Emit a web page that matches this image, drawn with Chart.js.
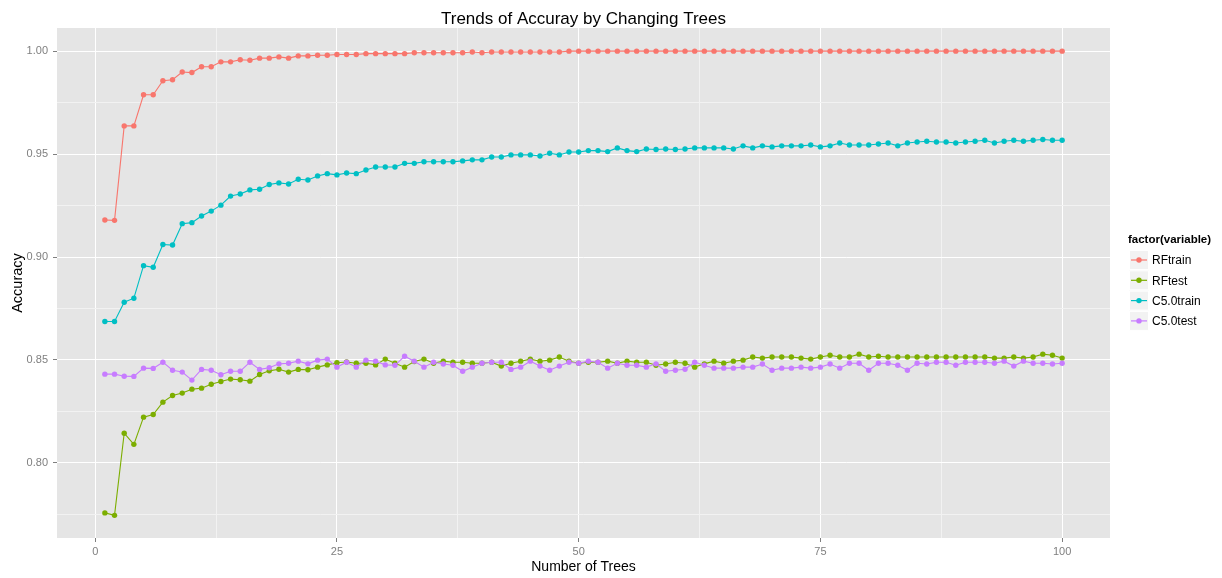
<!DOCTYPE html>
<html>
<head>
<meta charset="utf-8">
<script src="https://cdn.jsdelivr.net/npm/chart.js@4.4.1/dist/chart.umd.min.js"></script>
<style>
  body { margin: 0; background: #fff; }
  #chart { display: block; }
</style>
</head>
<body>
<canvas id="chart" width="1222" height="578"></canvas>
<script>
// number of trees on the x axis, 1..100
const trees = Array.from({ length: 100 }, (_, i) => i + 1);

const seriesNames = ["RFtrain", "RFtest", "C5.0train", "C5.0test"];
const seriesColors = ["#F8766D", "#7CAE00", "#00BFC4", "#C77CFF"];

const rfTrain = [
  0.9180, 0.9178, 0.9637, 0.9637, 0.9788, 0.9788, 0.9856, 0.9861, 0.9899, 0.9896,
  0.9924, 0.9924, 0.9948, 0.9948, 0.9958, 0.9956, 0.9966, 0.9966, 0.9972, 0.9966,
  0.9977, 0.9977, 0.9980, 0.9980, 0.9984, 0.9984, 0.9984, 0.9988, 0.9988, 0.9988,
  0.9988, 0.9988, 0.9992, 0.9992, 0.9992, 0.9992, 0.9992, 0.9992, 0.9996, 0.9992,
  0.9996, 0.9996, 0.9996, 0.9996, 0.9996, 0.9996, 0.9996, 0.9996, 1.0000, 1.0000,
  1.0000, 1.0000, 1.0000, 1.0000, 1.0000, 1.0000, 1.0000, 1.0000, 1.0000, 1.0000,
  1.0000, 1.0000, 1.0000, 1.0000, 1.0000, 1.0000, 1.0000, 1.0000, 1.0000, 1.0000,
  1.0000, 1.0000, 1.0000, 1.0000, 1.0000, 1.0000, 1.0000, 1.0000, 1.0000, 1.0000,
  1.0000, 1.0000, 1.0000, 1.0000, 1.0000, 1.0000, 1.0000, 1.0000, 1.0000, 1.0000,
  1.0000, 1.0000, 1.0000, 1.0000, 1.0000, 1.0000, 1.0000, 1.0000, 1.0000, 1.0000
];

const rfTest = [
  0.7757, 0.7745, 0.8144, 0.8090, 0.8222, 0.8235, 0.8295, 0.8327, 0.8339, 0.8358,
  0.8363, 0.8382, 0.8395, 0.8407, 0.8404, 0.8397, 0.8429, 0.8447, 0.8455, 0.8441,
  0.8454, 0.8452, 0.8465, 0.8476, 0.8486, 0.8490, 0.8484, 0.8484, 0.8476, 0.8504,
  0.8484, 0.8465, 0.8492, 0.8504, 0.8484, 0.8494, 0.8489, 0.8489, 0.8484, 0.8484,
  0.8489, 0.8470, 0.8484, 0.8494, 0.8504, 0.8494, 0.8499, 0.8514, 0.8494, 0.8484,
  0.8489, 0.8489, 0.8494, 0.8484, 0.8494, 0.8489, 0.8489, 0.8474, 0.8480, 0.8489,
  0.8484, 0.8465, 0.8481, 0.8494, 0.8484, 0.8494, 0.8499, 0.8514, 0.8509, 0.8514,
  0.8514, 0.8514, 0.8509, 0.8504, 0.8514, 0.8523, 0.8514, 0.8514, 0.8528, 0.8514,
  0.8518, 0.8514, 0.8514, 0.8514, 0.8514, 0.8514, 0.8514, 0.8514, 0.8514, 0.8514,
  0.8514, 0.8514, 0.8509, 0.8509, 0.8514, 0.8509, 0.8514, 0.8528, 0.8523, 0.8509
];

const c50Train = [
  0.8687, 0.8687, 0.8780, 0.8800, 0.8958, 0.8950, 0.9061, 0.9058, 0.9162, 0.9167,
  0.9199, 0.9223, 0.9252, 0.9296, 0.9306, 0.9326, 0.9329, 0.9352, 0.9360, 0.9355,
  0.9378, 0.9374, 0.9394, 0.9405, 0.9399, 0.9408, 0.9405, 0.9423, 0.9437, 0.9437,
  0.9437, 0.9455, 0.9455, 0.9463, 0.9463, 0.9463, 0.9463, 0.9467, 0.9472, 0.9472,
  0.9486, 0.9486, 0.9496, 0.9496, 0.9496, 0.9491, 0.9504, 0.9496, 0.9510, 0.9510,
  0.9517, 0.9517, 0.9512, 0.9530, 0.9517, 0.9512, 0.9525, 0.9522, 0.9525, 0.9522,
  0.9525, 0.9530, 0.9530, 0.9530, 0.9530, 0.9525, 0.9540, 0.9530, 0.9540, 0.9535,
  0.9540, 0.9540, 0.9540, 0.9544, 0.9535, 0.9540, 0.9554, 0.9544, 0.9544, 0.9544,
  0.9549, 0.9554, 0.9540, 0.9554, 0.9559, 0.9562, 0.9559, 0.9559, 0.9554, 0.9559,
  0.9562, 0.9567, 0.9554, 0.9562, 0.9567, 0.9562, 0.9567, 0.9571, 0.9567, 0.9567
];

const c50Test = [
  0.8431, 0.8431, 0.8421, 0.8420, 0.8460, 0.8459, 0.8489, 0.8450, 0.8441, 0.8402,
  0.8454, 0.8450, 0.8428, 0.8445, 0.8445, 0.8489, 0.8454, 0.8462, 0.8481, 0.8484,
  0.8494, 0.8481, 0.8499, 0.8504, 0.8465, 0.8489, 0.8465, 0.8499, 0.8494, 0.8476,
  0.8474, 0.8518, 0.8494, 0.8465, 0.8489, 0.8480, 0.8474, 0.8445, 0.8465, 0.8484,
  0.8489, 0.8489, 0.8454, 0.8465, 0.8494, 0.8470, 0.8450, 0.8470, 0.8489, 0.8484,
  0.8494, 0.8489, 0.8460, 0.8484, 0.8474, 0.8474, 0.8465, 0.8481, 0.8445, 0.8450,
  0.8455, 0.8489, 0.8474, 0.8460, 0.8460, 0.8460, 0.8465, 0.8465, 0.8480, 0.8450,
  0.8460, 0.8460, 0.8465, 0.8460, 0.8465, 0.8480, 0.8460, 0.8484, 0.8484, 0.8450,
  0.8484, 0.8484, 0.8474, 0.8450, 0.8484, 0.8480, 0.8489, 0.8489, 0.8474, 0.8489,
  0.8489, 0.8489, 0.8484, 0.8494, 0.8470, 0.8494, 0.8484, 0.8484, 0.8480, 0.8484
];

const seriesValues = [rfTrain, rfTest, c50Train, c50Test];

const xTicks = [0, 25, 50, 75, 100];
const yTicks = [0.80, 0.85, 0.90, 0.95, 1.00];

const FONT = "'Liberation Sans', Arial, sans-serif";

// majors plus the half-way minor lines ggplot draws between them
function withMinors(major) {
  const step = major[1] - major[0];
  const out = [{ value: major[0] - step / 2, minor: true }];
  major.forEach(v => {
    out.push({ value: v, minor: false });
    out.push({ value: v + step / 2, minor: true });
  });
  return out;
}

const gridColor = ctx => (ctx.tick && ctx.tick.minor ? "#f2f2f2" : "#ffffff");
const tickColor = ctx => (ctx.tick && ctx.tick.minor ? "rgba(0,0,0,0)" : "#7f7f7f");

const panelBg = {
  id: "panelBg",
  beforeDraw(chart) {
    const { ctx, chartArea: a } = chart;
    ctx.save();
    ctx.fillStyle = "#e5e5e5";
    ctx.fillRect(a.left, a.top, a.right - a.left, a.bottom - a.top);
    ctx.restore();
  }
};

const titleAndLegend = {
  id: "titleAndLegend",
  afterDraw(chart) {
    const { ctx, chartArea: a } = chart;
    ctx.save();
    ctx.fillStyle = "#000";
    ctx.font = "17px " + FONT;
    ctx.textAlign = "center";
    ctx.textBaseline = "alphabetic";
    ctx.fillText("Trends of Accuray by Changing Trees", (a.left + a.right) / 2, 23.5);

    // legend on the right
    const lx = 1129;
    ctx.textAlign = "left";
    ctx.font = "bold 11.5px " + FONT;
    ctx.fillText("factor(variable)", lx - 1, 243);
    ctx.font = "12px " + FONT;
    seriesNames.forEach((name, i) => {
      const cy = 260 + i * 20.3;
      ctx.fillStyle = "#f2f2f2";
      ctx.fillRect(lx, cy - 10, 20, 20);
      ctx.strokeStyle = "#ffffff";
      ctx.lineWidth = 1;
      ctx.strokeRect(lx + 0.5, cy - 9.5, 19, 19);
      ctx.strokeStyle = seriesColors[i];
      ctx.lineWidth = 1.2;
      ctx.beginPath();
      ctx.moveTo(lx + 2, cy);
      ctx.lineTo(lx + 18, cy);
      ctx.stroke();
      ctx.fillStyle = seriesColors[i];
      ctx.beginPath();
      ctx.arc(lx + 10, cy, 2.7, 0, Math.PI * 2);
      ctx.fill();
      ctx.fillStyle = "#000";
      ctx.textBaseline = "middle";
      ctx.fillText(name, lx + 23, cy + 1);
    });
    ctx.restore();
  }
};

new Chart(document.getElementById("chart"), {
  type: "line",
  data: {
    datasets: seriesNames.map((name, i) => ({
      label: name,
      data: trees.map((t, j) => ({ x: t, y: seriesValues[i][j] })),
      borderColor: seriesColors[i],
      backgroundColor: seriesColors[i],
      borderWidth: 1.1,
      pointRadius: 2.7,
      pointBorderWidth: 0,
      tension: 0,
      order: seriesNames.length - i
    }))
  },
  options: {
    responsive: false,
    animation: false,
    layout: { padding: { top: 28, right: 112, left: 0, bottom: 0 } },
    plugins: { legend: { display: false }, tooltip: { enabled: false } },
    scales: {
      x: {
        type: "linear",
        min: -3.95,
        max: 104.95,
        afterBuildTicks(scale) { scale.ticks = withMinors(xTicks).filter(t => t.value > scale.min && t.value < scale.max); },
        afterFit(scale) { scale.height = 40; },
        border: { display: false },
        grid: { color: gridColor, lineWidth: 1, tickColor: tickColor, tickLength: 4, tickWidth: 1 },
        ticks: {
          autoSkip: false, maxRotation: 0, padding: 3, color: "#7f7f7f",
          font: { family: FONT, size: 11 },
          callback(v, i, ticks) { return ticks[i].minor ? "" : String(v); }
        },
        title: { display: true, text: "Number of Trees", color: "#000", font: { family: FONT, size: 14 }, padding: { top: 0, bottom: 2 } }
      },
      y: {
        type: "linear",
        min: 0.7635,
        max: 1.01125,
        afterBuildTicks(scale) { scale.ticks = withMinors(yTicks).filter(t => t.value > scale.min && t.value < scale.max); },
        afterFit(scale) { scale.width = 57; },
        border: { display: false },
        grid: { color: gridColor, lineWidth: 1, tickColor: tickColor, tickLength: 4, tickWidth: 1 },
        ticks: {
          autoSkip: false, padding: 5, color: "#7f7f7f",
          font: { family: FONT, size: 11 },
          callback(v, i, ticks) { return ticks[i].minor ? "" : v.toFixed(2); }
        },
        title: { display: true, text: "Accuracy", color: "#000", font: { family: FONT, size: 14.5 }, padding: { top: 9, bottom: 0 } }
      }
    }
  },
  plugins: [panelBg, titleAndLegend]
});
</script>
</body>
</html>
